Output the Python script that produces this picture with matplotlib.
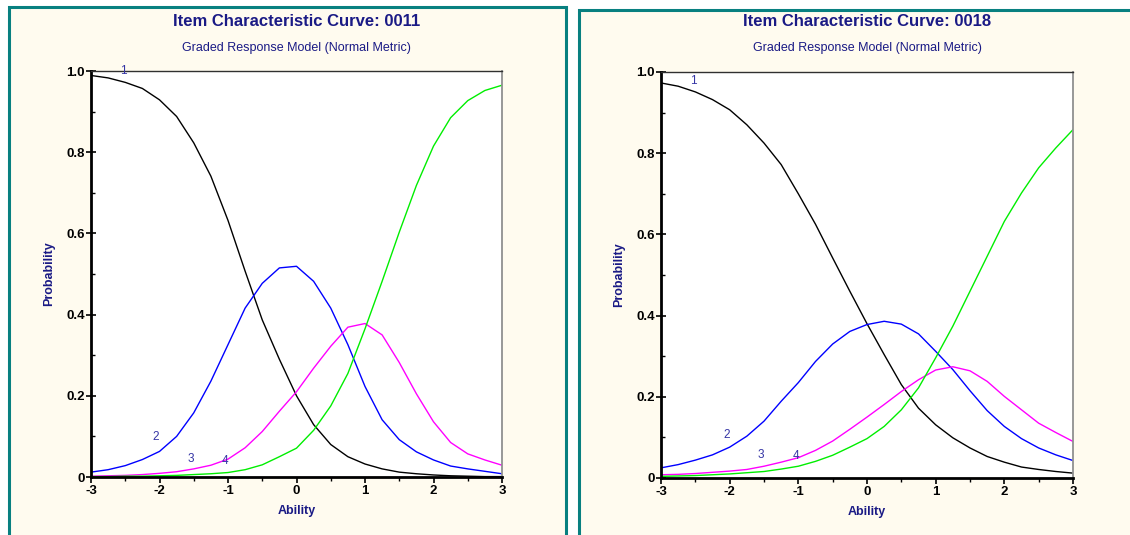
import matplotlib
matplotlib.use('Agg')
import matplotlib.pyplot as plt
from matplotlib.patches import Rectangle
from matplotlib.ticker import MultipleLocator

plt.rcParams['font.family'] = ['Liberation Sans', 'DejaVu Sans']

# ability grid (theta) shared by both items
ability = [-3.0, -2.75, -2.5, -2.25, -2.0, -1.75, -1.5, -1.25, -1.0, -0.75, -0.5, -0.25,
           0.0, 0.25, 0.5, 0.75, 1.0, 1.25, 1.5, 1.75, 2.0, 2.25, 2.5, 2.75, 3.0]

# item 0011, category response curves
item11_cat1 = [0.989, 0.983, 0.972, 0.957, 0.929, 0.888, 0.823, 0.741, 0.632, 0.507, 0.387, 0.290,
               0.200, 0.129, 0.080, 0.050, 0.032, 0.020, 0.012, 0.008, 0.005, 0.003, 0.002, 0.001, 0.001]
item11_cat2 = [0.012, 0.018, 0.028, 0.043, 0.063, 0.100, 0.158, 0.236, 0.326, 0.416, 0.477, 0.515,
               0.519, 0.482, 0.416, 0.326, 0.223, 0.141, 0.092, 0.062, 0.042, 0.027, 0.020, 0.014, 0.008]
item11_cat3 = [0.002, 0.003, 0.004, 0.006, 0.009, 0.013, 0.020, 0.029, 0.044, 0.072, 0.112, 0.162,
               0.210, 0.268, 0.322, 0.369, 0.378, 0.350, 0.282, 0.205, 0.136, 0.085, 0.057, 0.042, 0.029]
item11_cat4 = [0.001, 0.001, 0.002, 0.002, 0.003, 0.004, 0.006, 0.008, 0.011, 0.018, 0.030, 0.050,
               0.071, 0.115, 0.175, 0.255, 0.365, 0.482, 0.603, 0.718, 0.815, 0.885, 0.927, 0.952, 0.965]

# item 0018
item18_cat1 = [0.973, 0.965, 0.951, 0.932, 0.907, 0.870, 0.825, 0.772, 0.700, 0.625, 0.542, 0.460,
               0.380, 0.304, 0.230, 0.172, 0.131, 0.099, 0.074, 0.053, 0.039, 0.027, 0.021, 0.016, 0.012]
item18_cat2 = [0.025, 0.033, 0.044, 0.057, 0.076, 0.103, 0.140, 0.189, 0.235, 0.287, 0.330, 0.361,
               0.378, 0.386, 0.379, 0.355, 0.312, 0.267, 0.215, 0.166, 0.127, 0.097, 0.074, 0.057, 0.043]
item18_cat3 = [0.008, 0.009, 0.011, 0.014, 0.017, 0.021, 0.029, 0.039, 0.050, 0.068, 0.091, 0.120,
               0.150, 0.181, 0.213, 0.242, 0.266, 0.274, 0.264, 0.238, 0.201, 0.168, 0.135, 0.112, 0.090]
item18_cat4 = [0.004, 0.005, 0.006, 0.008, 0.010, 0.013, 0.016, 0.022, 0.029, 0.041, 0.056, 0.076,
               0.097, 0.127, 0.168, 0.222, 0.296, 0.374, 0.460, 0.546, 0.632, 0.702, 0.764, 0.813, 0.858]

# where the category numbers sit (ability, probability)
item11_label_pos = [(-2.53, 1.0), (-2.05, 0.098), (-1.54, 0.044), (-1.04, 0.039)]
item18_label_pos = [(-2.53, 0.978), (-2.04, 0.106), (-1.54, 0.057), (-1.04, 0.055)]

cat_names = ['1', '2', '3', '4']
cat_colors = ['#000000', '#0000ff', '#ff00ff', '#00ee00']

NAVY = '#1a1a85'
LABEL_BLUE = '#3535a5'
TEAL = '#088080'
CREAM = '#fffbef'

W, H = 1130, 535
fig = plt.figure(figsize=(W / 100, H / 100), dpi=100)
fig.patch.set_facecolor('white')


def panel(left_px, top_px, right_px):
    r = Rectangle((left_px / W, -0.1), (right_px - left_px) / W, 1 - top_px / H + 0.1,
                  transform=fig.transFigure, facecolor=CREAM, edgecolor=TEAL,
                  linewidth=2.2, zorder=-5)
    fig.add_artist(r)


def draw_item(rect_px, code, curves, label_pos):
    x0, y_top, x1, y_bot = rect_px
    ax = fig.add_axes([x0 / W, 1 - y_bot / H, (x1 - x0) / W, (y_bot - y_top) / H])
    ax.set_facecolor('white')

    for vals, col in zip(curves, cat_colors):
        ax.plot(ability, vals, color=col, lw=1.0, solid_joinstyle='round')

    for name, (lx, ly) in zip(cat_names, label_pos):
        ax.text(lx, ly, name, color=LABEL_BLUE, fontsize=8.5, ha='center', va='center',
                clip_on=False)

    ax.set_xlim(-3, 3)
    ax.set_ylim(0, 1)
    ax.set_xticks([-3, -2, -1, 0, 1, 2, 3], ['-3', '-2', '-1', '0', '1', '2', '3'],
                  fontweight='bold', fontsize=9.5)
    ax.set_yticks([0, 0.2, 0.4, 0.6, 0.8, 1.0], ['0', '0.2', '0.4', '0.6', '0.8', '1.0'],
                  fontweight='bold', fontsize=9.5)
    ax.xaxis.set_minor_locator(MultipleLocator(0.5))
    ax.yaxis.set_minor_locator(MultipleLocator(0.1))
    ax.tick_params(axis='x', which='major', direction='out', length=4, width=1.2, pad=1.5)
    ax.tick_params(axis='x', which='minor', direction='out', length=3, width=1)
    ax.tick_params(axis='y', which='major', direction='inout', length=7, width=1.2, pad=1)
    ax.tick_params(axis='y', which='minor', direction='in', length=3, width=1)

    for side in ['left', 'bottom']:
        ax.spines[side].set_linewidth(2.0)
        ax.spines[side].set_color('black')
    ax.spines['top'].set_linewidth(1.0)
    ax.spines['top'].set_color('#303030')
    ax.spines['right'].set_linewidth(1.3)
    ax.spines['right'].set_color('#909090')

    ax.text(0.5, -0.084, 'Ability', transform=ax.transAxes, ha='center', va='center',
            fontsize=9, fontweight='bold', color=NAVY)
    ax.text(-0.102, 0.5, 'Probability', transform=ax.transAxes, ha='center', va='center',
            rotation=90, fontsize=9, fontweight='bold', color=NAVY)

    cx = (x0 + x1) / 2 / W
    fig.text(cx, 1 - 21 / H, 'Item Characteristic Curve: ' + code, ha='center', va='center',
             fontsize=12, fontweight='bold', color=NAVY)
    fig.text(cx, 1 - 48 / H, 'Graded Response Model (Normal Metric)', ha='center',
             va='center', fontsize=9, color=NAVY)
    return ax


panel(8.5, 7.5, 565.5)
panel(578.5, 9.5, 1200)

draw_item((91, 71, 502, 477), '0011',
          [item11_cat1, item11_cat2, item11_cat3, item11_cat4], item11_label_pos)
draw_item((661, 72, 1073, 478), '0018',
          [item18_cat1, item18_cat2, item18_cat3, item18_cat4], item18_label_pos)

fig.savefig('out.png', dpi=100)
